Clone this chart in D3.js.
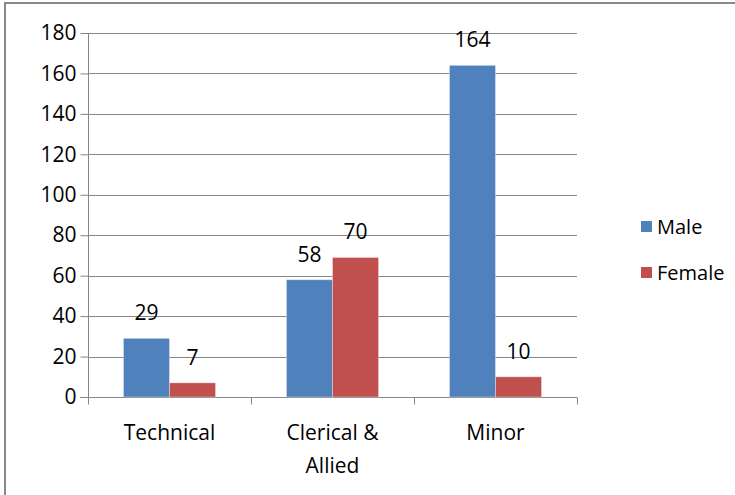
<!DOCTYPE html>
<html>
<head>
<meta charset="utf-8">
<script src="https://cdn.jsdelivr.net/npm/d3@7"></script>
<style>
  body { margin: 0; background: #fff; }
  svg text { font-family: "Open Sans", "Liberation Sans", sans-serif; fill: #000; }
</style>
</head>
<body>
<div id="chart"></div>
<script>
// datos del grafico
var categorias = ['Technical', 'Clerical & Allied', 'Minor'];
var series = ['Male', 'Female'];
var valoresMale = [29, 58, 164];
var valoresFemale = [7, 69, 10];
var etiquetasMale = ['29', '58', '164'];
var etiquetasFemale = ['7', '70', '10'];
var ticksY = [0, 20, 40, 60, 80, 100, 120, 140, 160, 180];
var colores = ['#4F81BD', '#C0504D'];

var width = 735, height = 495;
var margin = { top: 33, right: 158, bottom: 98, left: 88 };

var svg = d3.select('#chart').append('svg')
  .attr('width', width)
  .attr('height', height);

// borde exterior
svg.append('rect')
  .attr('x', 5).attr('y', 3)
  .attr('width', width + 10).attr('height', height + 10)
  .attr('fill', 'none')
  .attr('stroke', '#898989')
  .attr('stroke-width', 2);

var x0 = d3.scaleBand().domain(categorias).range([margin.left, width - margin.right]).padding(0);
var x1 = d3.scaleBand().domain(series).range([0, x0.bandwidth()]).paddingInner(0).paddingOuter(0.77);
var y = d3.scaleLinear().domain([0, 180]).range([height - margin.bottom, margin.top]);

// lineas de cuadricula
svg.append('g')
  .selectAll('line')
  .data(ticksY.filter(function (d) { return d > 0; }))
  .enter().append('line')
  .attr('x1', margin.left).attr('x2', width - margin.right)
  .attr('y1', function (d) { return Math.round(y(d)) + 0.5; })
  .attr('y2', function (d) { return Math.round(y(d)) + 0.5; })
  .attr('stroke', '#868686');

// eje Y
var ejeY = svg.append('g')
  .attr('transform', 'translate(' + (margin.left + 0.5) + ',0)')
  .call(d3.axisLeft(y).tickValues(ticksY).tickSize(8).tickPadding(4));
ejeY.selectAll('path, line').attr('stroke', '#868686');
ejeY.select('path').attr('d', 'M0,' + y(180) + 'V' + y(0));
ejeY.selectAll('text').style('font-size', '21px').attr('fill', '#000');

// eje X
var ejeX = svg.append('g')
  .attr('transform', 'translate(0,' + (Math.round(y(0)) + 0.5) + ')');
ejeX.append('line')
  .attr('x1', margin.left - 8).attr('x2', width - margin.right)
  .attr('stroke', '#868686');
ejeX.selectAll('.tick')
  .data(categorias.map(function (c) { return x0(c); }).concat([width - margin.right]))
  .enter().append('line')
  .attr('x1', function (d) { return Math.round(d) + 0.5; })
  .attr('x2', function (d) { return Math.round(d) + 0.5; })
  .attr('y1', 0).attr('y2', 7)
  .attr('stroke', '#868686');

// etiquetas de categorias (con salto de linea)
var etiquetasCat = [['Technical'], ['Clerical &', 'Allied'], ['Minor']];
categorias.forEach(function (c, i) {
  var t = svg.append('text')
    .attr('x', x0(c) + x0.bandwidth() / 2)
    .attr('y', y(0) + 43)
    .attr('text-anchor', 'middle')
    .style('font-size', '21px');
  etiquetasCat[i].forEach(function (linea, j) {
    t.append('tspan')
      .attr('x', x0(c) + x0.bandwidth() / 2)
      .attr('dy', j === 0 ? 0 : 33)
      .text(linea);
  });
});

// barras
var valores = [valoresMale, valoresFemale];
var etiquetas = [etiquetasMale, etiquetasFemale];
series.forEach(function (s, k) {
  var g = svg.append('g');
  g.selectAll('rect')
    .data(valores[k])
    .enter().append('rect')
    .attr('x', function (d, i) { return x0(categorias[i]) + x1(s); })
    .attr('y', function (d) { return y(d); })
    .attr('width', x1.bandwidth())
    .attr('height', function (d) { return y(0) - y(d); })
    .attr('fill', colores[k])
    .attr('stroke', 'rgba(255,255,255,0.35)')
    .attr('stroke-width', 1);

  g.selectAll('text')
    .data(valores[k])
    .enter().append('text')
    .attr('x', function (d, i) { return x0(categorias[i]) + x1(s) + x1.bandwidth() / 2; })
    .attr('y', function (d) { return y(d) - 18; })
    .attr('text-anchor', 'middle')
    .style('font-size', '21px')
    .text(function (d, i) { return etiquetas[k][i]; });
});

// leyenda
var leyenda = svg.append('g').attr('transform', 'translate(641,221)');
series.forEach(function (s, k) {
  var fila = leyenda.append('g').attr('transform', 'translate(0,' + (k * 46) + ')');
  fila.append('rect')
    .attr('width', 11).attr('height', 11)
    .attr('fill', colores[k]);
  fila.append('text')
    .attr('x', 16).attr('y', 13)
    .style('font-size', '20px')
    .text(s);
});
</script>
</body>
</html>
